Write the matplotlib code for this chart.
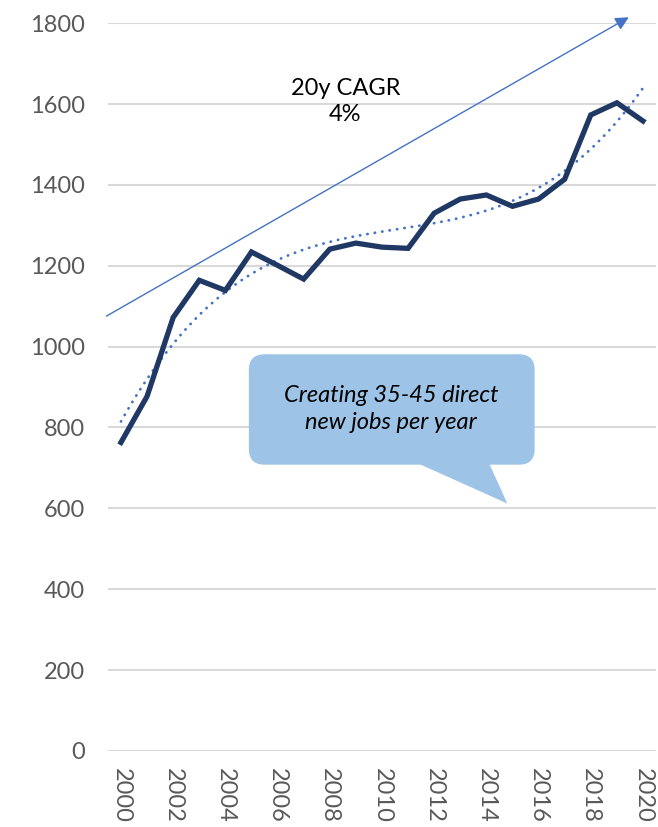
import numpy as np
import matplotlib
matplotlib.use("Agg")
import matplotlib.pyplot as plt
from matplotlib.patches import FancyBboxPatch, Polygon

plt.rcParams['font.family'] = ['Lato', 'DejaVu Sans']

####################################### DATA #######################################
years = np.arange(2000, 2021)
jobs = np.array([763, 877, 1072, 1164, 1139, 1234, 1201, 1167, 1241, 1256, 1246,
                 1243, 1330, 1365, 1375, 1347, 1365, 1414, 1573, 1603, 1558])
year_ticks = np.arange(2000, 2021, 2)
y_ticks = np.arange(0, 1801, 200)

cagr_text = "20y CAGR\n4%"
callout_text = "Creating 35-45 direct\nnew jobs per year"

navy = "#203864"
blue = "#4472C4"
callout_col = "#9DC3E6"
grid_col = "#D9D9D9"
tick_col = "#595959"

####################################### Trend line (polynomial, like excel) #######################################
coef = np.polyfit(years - 2000, jobs, 3)
poly = np.poly1d(coef)
x_trend = np.linspace(0, 20, 200)

####################################### Plot #######################################
fig = plt.figure(figsize=(6.58, 8.27), dpi=100)
ax = fig.add_axes([0.164, 0.092, 0.833, 0.880])

ax.plot(x_trend + 2000, poly(x_trend), color=blue, lw=2.0, linestyle=(0, (0.1, 2.6)),
        dash_capstyle='round', zorder=3)
ax.plot(years, jobs, color=navy, lw=3.8, solid_joinstyle='miter', zorder=4)

ax.set_xlim(1999.5, 2020.5)
ax.set_ylim(0, 1800)
ax.set_yticks(y_ticks)
ax.set_xticks(year_ticks)
ax.set_xticklabels([str(y) for y in year_ticks], rotation=-90, va='top', ha='center')
ax.tick_params(axis='both', length=0, labelsize=17, colors=tick_col)
ax.tick_params(axis='y', pad=16.5)
ax.tick_params(axis='x', pad=12)
ax.grid(axis='y', color=grid_col, lw=1.5)
ax.set_axisbelow(True)
for s in ax.spines.values():
    s.set_visible(False)

# CAGR arrow
ax.annotate("", xy=(2019.55, 1818), xytext=(1999.35, 1072),
            arrowprops=dict(arrowstyle='-|>', color=blue, lw=1.0, mutation_scale=20),
            annotation_clip=False, zorder=2)
ax.text(2008.6, 1606, cagr_text, ha='center', va='center', fontsize=17,
        color='black', linespacing=1.3)

# callout box
asp = (26.2 / (80.75 / 200.0))
box = FancyBboxPatch((2004.9, 708), 10.95, 273,
                     boxstyle="round,pad=0,rounding_size=0.6",
                     mutation_aspect=asp, fc=callout_col, ec='none', zorder=5)
ax.add_patch(box)
tail = Polygon([(2011.35, 712), (2014.1, 712), (2014.8, 612)], closed=True,
               fc=callout_col, ec='none', zorder=5)
ax.add_patch(tail)
ax.text(2010.35, 845, callout_text, ha='center', va='center', fontsize=17,
        style='italic', color='black', linespacing=1.35, zorder=6)

plt.savefig("out.png", dpi=100)
